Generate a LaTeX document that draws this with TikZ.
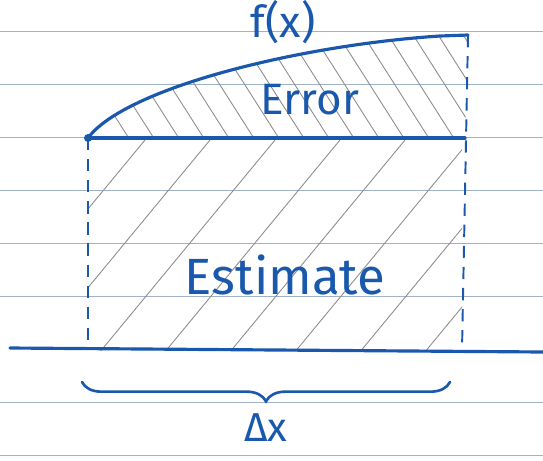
\documentclass[tikz,border=0pt]{standalone}
\usepackage{fontspec}
\setsansfont{Fira Sans}
\usetikzlibrary{decorations.pathreplacing}
\definecolor{penblue}{RGB}{25,88,172}
\definecolor{ruleblue}{RGB}{160,178,200}
\definecolor{hatchgray}{RGB}{140,140,140}

\begin{document}
\begin{tikzpicture}[x=0.02cm, y=-0.02cm, font=\sffamily\fontsize{25}{28}\selectfont,
 ink/.style={draw=penblue, line width=1.8pt, line cap=round},
 guide/.style={draw=penblue, line width=1.1pt, dash pattern=on 7pt off 5pt},
 hatch/.style={draw=hatchgray, line width=.5pt},
 ruled/.style={draw=ruleblue, line width=.5pt},
 label/.style={text=penblue, inner sep=0pt}]
\useasboundingbox (0,0) rectangle (543,460);
% notebook lines
\foreach \y in {31,84,137,190,243,296,402,455}
 \draw[ruled] (0,\y) -- (543,\y);
% corners of the strip
\coordinate (a) at (88,138);
\coordinate (b) at (465,138);
\coordinate (c) at (468,35);
\coordinate (a0) at (88,350);
\coordinate (b0) at (462,350);
% hatching of the error
\begin{scope}
\clip (a) .. controls (125,88) and (300,45) .. (440,36) -- (c) -- (b) -- cycle;
\foreach \x in {60,85,...,470}
 \draw[hatch] (\x,30) -- ++(70,110);
\end{scope}
% hatching of the estimate
\begin{scope}
\clip (a) rectangle (b0);
\foreach \x in {80,145,...,600}
 \draw[hatch] (\x,140) -- ++(-190,230);
\end{scope}
% the strip
\draw[ink] (a) .. controls (125,88) and (300,45) .. (440,36) -- (c);
\draw[ink] (a) -- (b);
\fill[penblue] (a) circle (4);
\draw[guide] (a) -- (a0);
\draw[guide] (c) -- (b0);
% x axis
\draw[ink] (10,348) -- (543,352);
% width brace
\draw[ink, line width=1.5pt, decorate, decoration={brace, mirror, amplitude=11pt}]
 (82,382) -- coordinate[below=11pt] (tip) (450,382);
\node[label, below=7pt, font=\sffamily\fontsize{23}{26}\selectfont] (dx) at (tip) {Δx};
\node[label] (fx) at (283,22) {f(x)};
\node[label] (err) at (310,100) {Error};
\node[label, font=\sffamily\fontsize{29}{32}\selectfont] (est) at (285,275) {Estimate};
\end{tikzpicture}
\end{document}
